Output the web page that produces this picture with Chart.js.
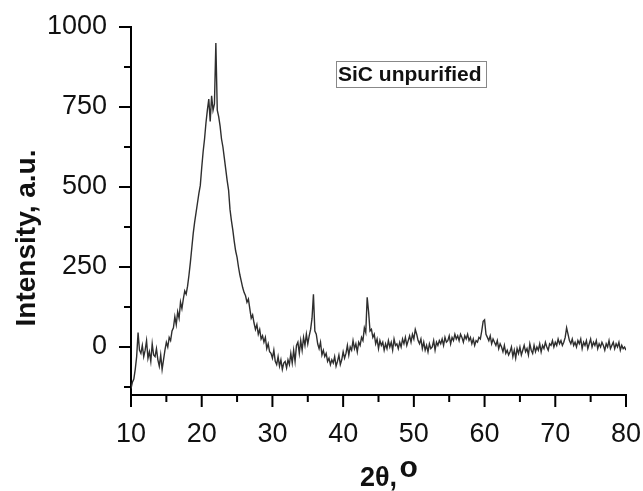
<!DOCTYPE html>
<html>
<head>
<meta charset="utf-8">
<script src="https://cdn.jsdelivr.net/npm/chart.js@4.4.1/dist/chart.umd.min.js"></script>
<style>
  html, body { margin: 0; padding: 0; background: #fff; }
  #wrap { width: 643px; height: 491px; position: relative; }
</style>
</head>
<body>
<div id="wrap"><canvas id="xrd"></canvas></div>
<script>
/* datos del difractograma: 2theta de 10 a 80 cada 0.2 */
const startAngle = 10;
const stepAngle = 0.2;
const intensity = [
  -130, -110, -100, -70, -30, 45, -10, -20, 5, -30,      // 10.0 - 11.8
  -10, 20, -35, -15, -45, 10, -25, -30, -5, -40,         // 12
  -60, -25, -70, -40, -10, 15, 0, 30, 20, 50,            // 14
  60, 95, 70, 110, 90, 140, 120, 150, 175, 165,          // 16
  190, 225, 265, 310, 355, 390, 420, 450, 480, 505,      // 18
  560, 610, 650, 700, 740, 775, 705, 785, 740, 760,      // 20
  950, 740, 720, 690, 650, 625, 590, 555, 520, 490,      // 22
  430, 395, 365, 330, 300, 280, 250, 225, 205, 185,      // 24
  170, 160, 140, 150, 120, 90, 100, 75, 55, 70,          // 26
  40, 55, 25, 35, 15, 30, -5, 10, -15, -20,              // 28
  -35, -10, -45, -55, -30, -60, -40, -70, -50, -45,      // 30
  -65, -40, -55, -20, -50, -10, -45, 5, 15, -20,         // 32
  20, -10, 30, 5, 40, 10, 35, 55, 90, 165,               // 34
  50, 40, 10, -5, 15, -25, -10, -30, -20, -45,           // 36
  -35, -55, -40, -50, -30, -60, -45, -25, -55, -40,      // 38
  -15, -35, -20, 5, -25, 0, -10, 20, -5, 10,             // 40
  -15, 15, 5, 30, 20, 60, 45, 155, 110, 50,              // 42
  55, 30, 40, 10, 25, -5, 20, 5, 15, -10,                // 44
  10, -5, 20, 0, 15, -10, 25, 5, 10, -5,                 // 46
  15, 0, 25, 10, 30, 5, 20, 35, 15, 40,                  // 48
  25, 55, 40, 20, 10, 25, -5, 15, -10, 5,                // 50
  -15, 10, -5, 0, 20, -10, 15, 5, 20, 10,                // 52
  25, 5, 30, 15, 20, 35, 10, 30, 20, 40,                 // 54
  25, 35, 20, 40, 30, 15, 35, 25, 40, 20,                // 56
  30, 10, 25, 5, 20, 15, 30, 25, 50, 80,                 // 58
  85, 40, 30, 20, 35, 10, 25, 15, 5, 20,                 // 60
  -5, 10, 0, -15, 5, -20, -10, -25, -15, 0,              // 62
  -30, -10, -35, -5, -20, 0, -25, -10, 5, -15,           // 64
  -5, -25, 10, -10, -20, 5, -15, 0, -10, 10,             // 66
  -15, 5, -5, 15, 0, -10, 10, 5, 20, 0,                  // 68
  15, 5, 25, 10, 20, 5, 15, 30, 60, 40,                  // 70
  20, 10, 25, 5, 15, 0, 20, 10, 25, -5,                  // 72
  15, 5, 20, -5, 10, 25, 0, 15, 5, 20,                   // 74
  -5, 10, 0, 15, 5, -10, 10, 0, 20, -5,                  // 76
  5, 15, -5, 10, 0, 15, -10, 5, -5, 0,                   // 78
  -10                                                    // 80
];

const xMajorTicks = [10, 20, 30, 40, 50, 60, 70, 80];
const xMinorTicks = [15, 25, 35, 45, 55, 65, 75];
const yMajorTicks = [0, 250, 500, 750, 1000];
const yMinorTicks = [-125, 125, 375, 625, 875];

const yTitle = 'Intensity, a.u.';
const xTitle = '2θ, ';
const xTitleSup = 'o';
const sampleLabel = 'SiC unpurified';

const puntos = intensity.map((v, i) => ({ x: startAngle + i * stepAngle, y: v }));

/* marcas de ejes (mayores largas, menores cortas) y textos */
const decoraciones = {
    id: 'decoraciones',
    afterDraw(chart) {
        const ctx = chart.ctx;
        const xs = chart.scales.x, ys = chart.scales.y;
        const area = chart.chartArea;
        ctx.save();
        ctx.strokeStyle = '#000';
        ctx.lineWidth = 2;
        ctx.beginPath();
        xMajorTicks.forEach(v => { const p = xs.getPixelForValue(v); ctx.moveTo(p, area.bottom); ctx.lineTo(p, area.bottom + 12); });
        xMinorTicks.forEach(v => { const p = xs.getPixelForValue(v); ctx.moveTo(p, area.bottom); ctx.lineTo(p, area.bottom + 7); });
        yMajorTicks.forEach(v => { const p = ys.getPixelForValue(v); ctx.moveTo(area.left, p); ctx.lineTo(area.left - 12, p); });
        yMinorTicks.forEach(v => { const p = ys.getPixelForValue(v); ctx.moveTo(area.left, p); ctx.lineTo(area.left - 7, p); });
        ctx.stroke();

        // titulo eje Y
        ctx.fillStyle = '#111';
        ctx.font = 'bold 28px "Liberation Sans", Arial, sans-serif';
        ctx.textAlign = 'center';
        ctx.textBaseline = 'alphabetic';
        ctx.save();
        ctx.translate(35, 238);
        ctx.rotate(-Math.PI / 2);
        ctx.fillText(yTitle, 0, 0);
        ctx.restore();

        // titulo eje X con superindice
        ctx.font = 'bold 27px "Liberation Sans", Arial, sans-serif';
        ctx.textAlign = 'left';
        ctx.fillText(xTitle, 360, 486);
        const w = ctx.measureText(xTitle).width;
        ctx.font = 'bold 30px "Liberation Sans", Arial, sans-serif';
        ctx.fillText(xTitleSup, 360 + w - 5, 477);

        // etiqueta de la muestra
        ctx.font = 'bold 21px "Liberation Sans", Arial, sans-serif';
        ctx.textBaseline = 'middle';
        ctx.fillText(sampleLabel, 338, 75);
        ctx.strokeStyle = '#888';
        ctx.lineWidth = 1;
        ctx.strokeRect(336.5, 61.5, 150, 26);
        ctx.restore();
    }
};

new Chart(document.getElementById('xrd'), {
    type: 'line',
    data: {
        datasets: [{
            data: puntos,
            borderColor: '#2e2e2e',
            borderWidth: 1.4,
            pointRadius: 0,
            tension: 0,
            fill: false
        }]
    },
    options: {
        responsive: true,
        maintainAspectRatio: false,
        animation: false,
        layout: { padding: { top: 27, right: 17, left: 0, bottom: 0 } },
        plugins: { legend: { display: false }, tooltip: { enabled: false } },
        scales: {
            x: {
                type: 'linear',
                min: 10, max: 80,
                grid: { display: false },
                border: { display: true, color: '#000', width: 2 },
                afterBuildTicks: s => { s.ticks = xMajorTicks.map(v => ({ value: v })); },
                afterFit: s => { s.height = 96; s.paddingLeft = 0; s.paddingRight = 0; },
                ticks: { color: '#111', padding: 15, maxRotation: 0, callback: v => String(v), font: { family: '"Liberation Sans", Arial, sans-serif', size: 27 } }
            },
            y: {
                min: -150, max: 1000,
                grid: { display: false },
                border: { display: true, color: '#000', width: 2 },
                afterBuildTicks: s => { s.ticks = yMajorTicks.map(v => ({ value: v })); },
                afterFit: s => { s.width = 131; s.paddingTop = 0; s.paddingBottom = 0; },
                ticks: { color: '#111', padding: 16, callback: v => String(v), font: { family: '"Liberation Sans", Arial, sans-serif', size: 27 } }
            }
        }
    },
    plugins: [decoraciones]
});
</script>
</body>
</html>
